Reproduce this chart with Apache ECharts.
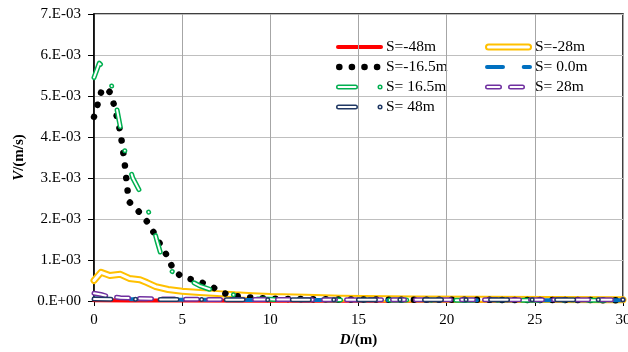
<!DOCTYPE html>
<html>
<head>
<meta charset="utf-8">
<script src="https://cdn.jsdelivr.net/npm/echarts@6/dist/echarts.min.js"></script>
<style>
  html, body { margin: 0; padding: 0; background: #fff; }
  #chart { width: 628px; height: 352px; }
</style>
</head>
<body>
<div id="chart"></div>
<script>
// Velocity V (in 1e-3 m/s) against distance D (m) for each section S.
const dNeg48 = [0, 2, 5, 10, 15, 20, 25, 30];
const vNeg48 = [0.02, 0.015, 0.01, 0.008, 0.006, 0.005, 0.005, 0.005];

const dNeg28 = [0, 0.4, 0.9, 1.5, 2.0, 2.6, 3.0, 3.5, 4.2, 5.0, 6, 7, 8, 9, 10, 12, 14, 18, 22, 26, 30];
const vNeg28 = [0.50, 0.70, 0.62, 0.65, 0.55, 0.52, 0.45, 0.35, 0.28, 0.24, 0.21, 0.18, 0.15, 0.13, 0.11, 0.09, 0.07, 0.05, 0.04, 0.035, 0.03];

const dNeg16 = [0, 0.43, 0.65, 0.93, 1.15, 1.5, 1.72, 1.97, 2.5, 3.0, 3.4, 3.8, 4.2, 4.5, 5.0, 5.8, 6.6, 7.3, 8.0, 8.7, 9.5, 10.5, 12, 15, 20, 25, 30];
const vNeg16 = [4.49, 5.13, 5.2, 5.08, 4.76, 4.11, 3.44, 2.43, 2.2, 1.94, 1.66, 1.35, 1.06, 0.76, 0.58, 0.50, 0.37, 0.20, 0.12, 0.09, 0.066, 0.055, 0.045, 0.035, 0.03, 0.025, 0.02];

const dZero = [0, 1, 3, 6, 10, 15, 20, 25, 30];
const vZero = [0.06, 0.05, 0.04, 0.03, 0.025, 0.02, 0.02, 0.02, 0.02];

const dPos16 = [0, 0.3, 0.5, 1.0, 1.3, 1.8, 2.2, 2.75, 3.25, 3.55, 3.9, 4.05, 4.85, 6.0, 7.2, 8.5, 9.2, 10, 12, 15, 20, 25, 30];
const vPos16 = [5.45, 5.8, 5.72, 5.25, 4.68, 3.55, 3.0, 2.55, 2.0, 1.5, 0.98, 0.8, 0.63, 0.37, 0.19, 0.12, 0.05, 0.04, 0.03, 0.025, 0.02, 0.02, 0.02];

const dPos28 = [0, 0.4, 0.8, 1.5, 2.5, 4, 6, 10, 15, 20, 25, 30];
const vPos28 = [0.19, 0.16, 0.11, 0.08, 0.06, 0.05, 0.04, 0.035, 0.03, 0.03, 0.03, 0.03];

const dPos48 = [0, 1, 3, 6, 10, 15, 20, 25, 30];
const vPos48 = [0.05, 0.045, 0.04, 0.035, 0.03, 0.03, 0.03, 0.03, 0.03];

const seriesNames = ['S=-48m', 'S=-28m', 'S=-16.5m', 'S= 0.0m', 'S= 16.5m', 'S= 28m', 'S= 48m'];
const xTicks = [0, 5, 10, 15, 20, 25, 30];
const yTickLabels = ['0.E+00', '1.E-03', '2.E-03', '3.E-03', '4.E-03', '5.E-03', '6.E-03', '7.E-03'];

const FONT = '"Liberation Serif", "Times New Roman", serif';

// line looks shared by plot and key
const looks = [
  { color: '#FF0000', width: 4, dash: 'solid', core: null },
  { color: '#FFC000', width: 7, dash: 'solid', core: 3 },
  { color: '#000000', width: 6.5, dash: [0.1, 12.5], core: null },
  { color: '#0070C0', width: 4, dash: [16, 20.7], core: null },
  { color: '#00B050', width: 5, dash: [17, 24.5, 0.1, 24.5], core: 2 },
  { color: '#7030A0', width: 5, dash: [12, 11], core: 2 },
  { color: '#203864', width: 5, dash: [17, 24.5, 0.1, 24.5], core: 2 }
];
const xs = [dNeg48, dNeg28, dNeg16, dZero, dPos16, dPos28, dPos48];
const vs = [vNeg48, vNeg28, vNeg16, vZero, vPos16, vPos28, vPos48];

const pairs = (d, v) => d.map((x, i) => [x, v[i]]);

const series = [];
looks.forEach((lk, i) => {
  const data = pairs(xs[i], vs[i]);
  series.push({
    name: seriesNames[i], type: 'line', data, showSymbol: false, symbol: 'none',
    clip: false, silent: true,
    lineStyle: { color: lk.color, width: lk.width, type: lk.dash, cap: 'round', join: 'round' }
  });
  if (lk.core) {
    series.push({
      name: seriesNames[i] + ' core', type: 'line', data, showSymbol: false, symbol: 'none',
      clip: false, silent: true,
      lineStyle: { color: '#FFFFFF', width: lk.core, type: lk.dash, cap: 'round', join: 'round' }
    });
  }
});

// key box
const keyRows = [47, 67, 87, 107];
const keyCols = [{ x0: 336, x1: 383, tx: 386 }, { x0: 485, x1: 532, tx: 535 }];
const keyOrder = [[0, 0, 0], [1, 1, 0], [2, 0, 1], [3, 1, 1], [4, 0, 2], [5, 1, 2], [6, 0, 3]];
const keyEls = [{
  type: 'rect', shape: { x: 314, y: 36, width: 299, height: 78 },
  style: { fill: '#FFFFFF' }
}];
keyOrder.forEach(([si, c, r]) => {
  const lk = looks[si], col = keyCols[c], y = keyRows[r];
  const h = lk.width / 2;
  const dash = lk.dash === 'solid' ? null : lk.dash;
  keyEls.push({
    type: 'line', shape: { x1: col.x0 + h, y1: y, x2: col.x1 - h, y2: y },
    style: { stroke: lk.color, lineWidth: lk.width, lineDash: dash, lineCap: 'round' }
  });
  if (lk.core) {
    keyEls.push({
      type: 'line', shape: { x1: col.x0 + h, y1: y, x2: col.x1 - h, y2: y },
      style: { stroke: '#FFFFFF', lineWidth: lk.core, lineDash: dash, lineCap: 'round' }
    });
  }
  keyEls.push({
    type: 'text', x: col.tx, y: y,
    style: { text: seriesNames[si], fontSize: 15.5, fontFamily: FONT, fill: '#000', align: 'left', verticalAlign: 'middle' }
  });
});

const chart = echarts.init(document.getElementById('chart'), null, { renderer: 'canvas' });
chart.setOption({
  animation: false,
  backgroundColor: '#FFFFFF',
  grid: { left: 94, right: 5, top: 14, bottom: 51, containLabel: false, outerBoundsMode: 'none',
    show: true, borderColor: '#000', borderWidth: 1.5, backgroundColor: 'transparent' },
  xAxis: {
    type: 'value', min: 0, max: 30, interval: 5,
    name: '{i|D}{b|/(m)}', nameLocation: 'middle', nameGap: 32,
    nameTextStyle: { rich: {
      i: { fontFamily: FONT, fontSize: 15, fontWeight: 'bold', fontStyle: 'italic', color: '#000' },
      b: { fontFamily: FONT, fontSize: 15, fontWeight: 'bold', color: '#000' }
    } },
    axisLine: { lineStyle: { color: '#000', width: 1.5 } },
    axisTick: { show: true, inside: false, length: 5, lineStyle: { color: '#000' } },
    axisLabel: { fontFamily: FONT, fontSize: 15, color: '#000', margin: 12, hideOverlap: false,
      formatter: v => String(xTicks[xTicks.indexOf(v)]) },
    splitLine: { show: true, lineStyle: { color: '#A6A6A6', width: 1 } }
  },
  yAxis: {
    type: 'value', min: 0, max: 7, interval: 1,
    name: '{i|V}{b|/(m/s)}', nameLocation: 'middle', nameGap: 67, nameRotate: 90,
    nameTextStyle: { rich: {
      i: { fontFamily: FONT, fontSize: 15, fontWeight: 'bold', fontStyle: 'italic', color: '#000' },
      b: { fontFamily: FONT, fontSize: 15, fontWeight: 'bold', color: '#000' }
    } },
    axisLine: { show: true, lineStyle: { color: '#000', width: 1.5 } },
    axisTick: { show: true, inside: false, length: 6, lineStyle: { color: '#000' } },
    axisLabel: { fontFamily: FONT, fontSize: 15, color: '#000', margin: 13,
      formatter: v => yTickLabels[Math.round(v)] },
    splitLine: { show: true, lineStyle: { color: '#BFBFBF', width: 1 } }
  },
  series,
  graphic: [{ type: 'group', z: 100, children: keyEls }]
});
</script>
</body>
</html>
